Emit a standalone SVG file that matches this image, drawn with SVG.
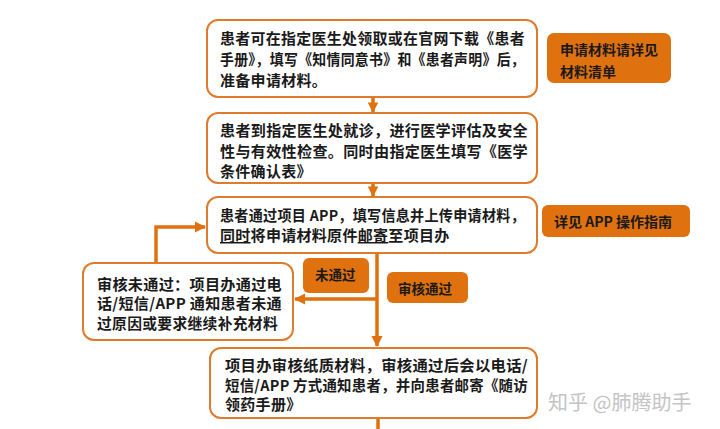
<svg xmlns="http://www.w3.org/2000/svg" width="720" height="429" viewBox="0 0 720 429">
<defs>
<style>
.box{fill:#fff;stroke:#DE7B2C;stroke-width:2}
.tag{fill:#E0710F;stroke:none}
.t{font-family:"Noto Sans CJK SC","Noto Sans",sans-serif;font-size:15px;font-weight:700;fill:#1a1a1a;letter-spacing:0.3px}
.tt{font-family:"Noto Sans CJK SC","Noto Sans",sans-serif;font-size:14px;font-weight:700;fill:#1a1a1a}
.ln{fill:none;stroke:#E0710F;stroke-width:3.5}
.wm{font-family:"Noto Sans CJK SC","Noto Sans",sans-serif;font-size:20px;fill:#c4c4c4}
</style>
<marker id="ah" viewBox="0 0 10 10" refX="9" refY="5" markerWidth="3.2" markerHeight="3" orient="auto" markerUnits="strokeWidth">
<path d="M0,0 L10,5 L0,10 Z" fill="#E0710F"/>
</marker>
<marker id="ahl" viewBox="0 0 10 10" refX="9" refY="5" markerWidth="3.6" markerHeight="3.2" orient="auto" markerUnits="strokeWidth">
<path d="M0,0 L10,5 L0,10 Z" fill="#E0710F"/>
</marker>
</defs>

<g id="connectors">
<line class="ln" x1="373" y1="98" x2="373" y2="112" marker-end="url(#ah)"/>
<line class="ln" x1="373" y1="184" x2="373" y2="196" marker-end="url(#ah)"/>
<line class="ln" x1="377" y1="254" x2="377" y2="346" marker-end="url(#ahl)"/>
<line class="ln" x1="377" y1="299" x2="295" y2="299" marker-end="url(#ahl)"/>
<polyline class="ln" points="156,263 156,227 205,227" marker-end="url(#ahl)"/>
<line class="ln" x1="378" y1="419" x2="378" y2="429"/>
</g>

<g id="n1">
<rect class="box" x="207" y="20" width="330" height="77" rx="11"/>
<text class="t" x="220" y="44" textLength="305" lengthAdjust="spacingAndGlyphs">患者可在指定医生处领取或在官网下载《患者</text>
<text class="t" x="220" y="65" textLength="305" lengthAdjust="spacingAndGlyphs">手册》，填写《知情同意书》和《患者声明》后，</text>
<text class="t" x="220" y="86">准备申请材料。</text>
</g>

<g id="n2">
<rect class="box" x="207" y="113" width="330" height="70" rx="11"/>
<text class="t" x="220" y="136" textLength="308" lengthAdjust="spacingAndGlyphs">患者到指定医生处就诊，进行医学评估及安全</text>
<text class="t" x="220" y="157" textLength="308" lengthAdjust="spacingAndGlyphs">性与有效性检查。同时由指定医生填写《医学</text>
<text class="t" x="220" y="177">条件确认表》</text>
</g>

<g id="n3">
<rect class="box" x="207" y="197" width="330" height="56" rx="11"/>
<text class="t" x="220" y="221" textLength="305" lengthAdjust="spacingAndGlyphs">患者通过项目 APP，填写信息并上传申请材料，</text>
<text class="t" x="220" y="241"><tspan style="text-decoration:underline">同时</tspan>将申请材料原件<tspan style="text-decoration:underline">邮寄</tspan>至项目办</text>
</g>

<g id="n4">
<rect class="box" x="83" y="263" width="210" height="77" rx="11"/>
<text class="t" x="97" y="290" textLength="185" lengthAdjust="spacingAndGlyphs">审核未通过：项目办通过电</text>
<text class="t" x="97" y="309" textLength="185" lengthAdjust="spacingAndGlyphs">话/短信/APP 通知患者未通</text>
<text class="t" x="97" y="329" textLength="181" lengthAdjust="spacingAndGlyphs">过原因或要求继续补充材料</text>
</g>

<g id="n5">
<rect class="box" x="210" y="348" width="327" height="70" rx="11"/>
<text class="t" x="225" y="371" textLength="303" lengthAdjust="spacingAndGlyphs">项目办审核纸质材料，审核通过后会以电话/</text>
<text class="t" x="225" y="391" textLength="303" lengthAdjust="spacingAndGlyphs">短信/APP 方式通知患者，并向患者邮寄《随访</text>
<text class="t" x="225" y="410">领药手册》</text>
</g>

<g id="tag1">
<rect class="tag" x="547" y="33" width="124" height="50" rx="7"/>
<text class="tt" x="560" y="55">申请材料请详见</text>
<text class="tt" x="560" y="77">材料清单</text>
</g>

<g id="tag2">
<rect class="tag" x="542" y="205" width="148" height="32" rx="6"/>
<text class="tt" x="554" y="227">详见 APP 操作指南</text>
</g>

<g id="tag3">
<rect class="tag" x="303" y="258" width="66" height="35" rx="6"/>
<text class="tt" x="315" y="280" style="font-size:13.5px">未通过</text>
</g>

<g id="tag4">
<rect class="tag" x="387" y="272" width="81" height="31" rx="6"/>
<text class="tt" x="398" y="294" style="font-size:13.5px">审核通过</text>
</g>

<text class="wm" x="548" y="410">知乎 @肺腾助手</text>
</svg>
